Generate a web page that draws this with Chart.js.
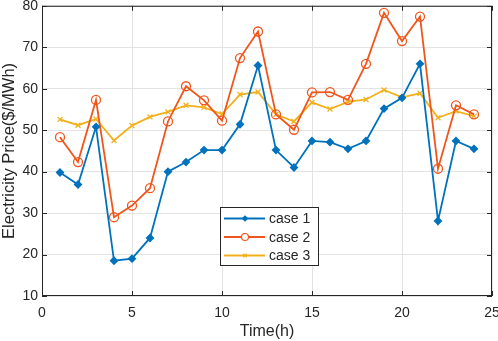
<!DOCTYPE html>
<html>
<head>
<meta charset="utf-8">
<script src="https://cdn.jsdelivr.net/npm/chart.js@4/dist/chart.umd.min.js"></script>
<style>
  html, body { margin: 0; padding: 0; background: #fff; }
  #wrap { width: 498px; height: 341px; position: relative; }
</style>
</head>
<body>
<div id="wrap"><canvas id="price-chart"></canvas></div>
<script>
// hours 1..24
var hours = [1,2,3,4,5,6,7,8,9,10,11,12,13,14,15,16,17,18,19,20,21,22,23,24];

var case1 = [39.8,36.9,50.8,18.5,19,24,40,42.3,45.2,45.2,51.4,65.6,45.2,41,47.4,47.1,45.5,47.4,55.2,57.8,66,28.1,47.4,45.5];
var case2 = [48.3,42.3,57.3,29,31.8,36,52.1,60.6,57.2,52.3,67.4,73.8,53.8,50.1,59.1,59.2,57.3,66,78.3,71.5,77.4,40.7,56,53.8];
var case3 = [52.6,51.2,52.7,47.5,51.1,53.2,54.4,56,55.5,53.9,58.6,59.2,53.8,52.1,56.7,55.1,56.8,57.4,59.7,57.9,58.9,53,54.6,53.4];

var xTicks = [0,5,10,15,20,25];
var yTicks = [10,20,30,40,50,60,70,80];

var axisColor = '#262626';

function pts(vals) {
    return hours.map(function(h, i) { return {x: h, y: vals[i]}; });
}

var series = [
    {label: 'case 1', data: case1, color: '#0072BD', style: 'rectRot', r: 3.5},
    {label: 'case 2', data: case2, color: '#F0561C', style: 'circle', r: 4.5},
    {label: 'case 3', data: case3, color: '#F2B11C', style: 'crossRot', r: 3.5}
];

// axes box + inward tick marks, matlab style
var boxPlugin = {
    id: 'box',
    beforeDatasetsDraw: function(chart) {
        var ctx = chart.ctx, a = chart.chartArea;
        var xs = chart.scales.x, ys = chart.scales.y;
        ctx.save();
        ctx.strokeStyle = axisColor;
        ctx.lineWidth = 1;
        ctx.strokeRect(a.left + 0.5, a.top + 0.5, a.right - a.left - 1, a.bottom - a.top - 1);
        ctx.beginPath();
        xTicks.forEach(function(t) {
            var px = Math.round(xs.getPixelForValue(t)) + 0.5;
            ctx.moveTo(px, a.bottom); ctx.lineTo(px, a.bottom - 5);
            ctx.moveTo(px, a.top); ctx.lineTo(px, a.top + 5);
        });
        yTicks.forEach(function(t) {
            var py = Math.round(ys.getPixelForValue(t)) + 0.5;
            ctx.moveTo(a.left, py); ctx.lineTo(a.left + 5, py);
            ctx.moveTo(a.right, py); ctx.lineTo(a.right - 5, py);
        });
        ctx.stroke();
        ctx.restore();
    }
};

// legend box inside the plot
var legendPlugin = {
    id: 'boxLegend',
    afterDraw: function(chart) {
        var ctx = chart.ctx;
        var bx = 220, by = 207, bw = 98, bh = 58;
        ctx.save();
        ctx.fillStyle = '#fff';
        ctx.fillRect(bx, by, bw, bh);
        ctx.strokeStyle = axisColor;
        ctx.lineWidth = 1;
        ctx.strokeRect(bx + 0.5, by + 0.5, bw, bh);
        ctx.font = '14px "Liberation Sans", Arial, sans-serif';
        ctx.textBaseline = 'middle';
        series.forEach(function(s, i) {
            var y = 218.5 + i * 18.5;
            ctx.strokeStyle = s.color;
            ctx.lineWidth = 1.8;
            ctx.beginPath();
            ctx.moveTo(224, y); ctx.lineTo(265, y);
            ctx.stroke();
            ctx.lineWidth = 1.2;
            ctx.fillStyle = s.style === 'rectRot' ? s.color : '#fff';
            Chart.helpers.drawPoint(ctx, {pointStyle: s.style, radius: s.r - 1, rotation: 0, borderWidth: 1.2}, 245, y);
            ctx.fillStyle = axisColor;
            ctx.fillText(s.label, 269, y + 1);
        });
        ctx.restore();
    }
};

new Chart(document.getElementById('price-chart'), {
    type: 'line',
    data: {
        datasets: series.map(function(s) {
            return {
                label: s.label,
                data: pts(s.data),
                borderColor: s.color,
                backgroundColor: s.style === 'rectRot' ? s.color : 'rgba(0,0,0,0)',
                borderWidth: 1.8,
                pointStyle: s.style,
                pointRadius: s.r,
                pointBorderWidth: 1.3,
                pointBackgroundColor: s.style === 'rectRot' ? s.color : 'rgba(0,0,0,0)',
                tension: 0
            };
        })
    },
    options: {
        responsive: true,
        maintainAspectRatio: false,
        animation: false,
        layout: {padding: {top: 5, right: 6, left: 0, bottom: 0}},
        plugins: {legend: {display: false}, tooltip: {enabled: false}},
        scales: {
            x: {
                type: 'linear',
                min: 0, max: 25,
                afterBuildTicks: function(s) { s.ticks = xTicks.map(function(v) { return {value: v}; }); },
                afterFit: function(s) { s.height = 45; s.paddingLeft = 0; s.paddingRight = 0; },
                grid: {color: '#e3e3e3', drawTicks: false},
                border: {display: false},
                ticks: {color: axisColor, padding: 9, maxRotation: 0, font: {family: '"Liberation Sans", Arial', size: 14}},
                title: {display: true, text: 'Time(h)', color: axisColor, padding: {top: 0, bottom: 0},
                    font: {family: '"Liberation Sans", Arial', size: 16}}
            },
            y: {
                min: 10, max: 80,
                afterBuildTicks: function(s) { s.ticks = yTicks.map(function(v) { return {value: v}; }); },
                afterFit: function(s) { s.width = 42; s.paddingTop = 0; s.paddingBottom = 0; },
                grid: {color: '#e3e3e3', drawTicks: false},
                border: {display: false},
                ticks: {color: axisColor, padding: 4, font: {family: '"Liberation Sans", Arial', size: 14}},
                title: {display: true, text: 'Electricity Price($/MWh)', color: axisColor, padding: {top: 0, bottom: 0},
                    font: {family: '"Liberation Sans", Arial', size: 16.5}}
            }
        }
    },
    plugins: [boxPlugin, legendPlugin]
});
</script>
</body>
</html>
